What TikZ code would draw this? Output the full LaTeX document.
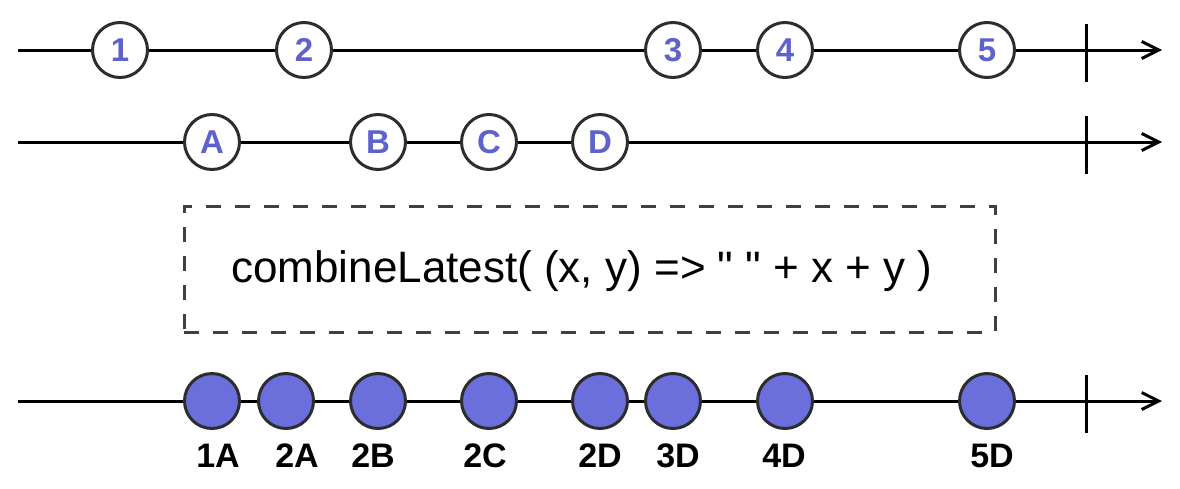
\documentclass[tikz,border=0pt]{standalone}
\usepackage{fontspec}
\setmainfont{Liberation Sans}[Ligatures=TeXOff]
\usetikzlibrary{arrows.meta}
\definecolor{evfill}{RGB}{106,111,220}
\definecolor{evtext}{RGB}{94,99,204}
\definecolor{evline}{RGB}{45,45,45}
\definecolor{boxline}{RGB}{64,64,64}
\begin{document}
\begin{tikzpicture}[x=1pt,y=-1pt,
  tl/.style={line width=3pt,black},
  tlarrow/.style={tl,-{Straight Barb[length=17pt,width=17pt]}},
  tickmark/.style={line width=3pt,black},
  evin/.style={circle,draw=evline,line width=3pt,fill=white,minimum size=55pt,inner sep=0pt,text=evtext,font=\fontsize{33}{33}\selectfont\bfseries},
  evout/.style={circle,draw=evline,line width=3pt,fill=evfill,minimum size=55pt,inner sep=0pt},
  lbl/.style={font=\fontsize{34}{34}\selectfont\bfseries,anchor=base,text=black},
  fnbox/.style={draw=boxline,line width=3pt,dash pattern=on 15pt off 14pt,minimum width=811pt,minimum height=126pt,inner sep=0pt},
  fntext/.style={font=\fontsize{44}{44}\selectfont,anchor=base,text=black}]
\useasboundingbox (0,0) rectangle (1180,488);

% ---------- row 1 ----------
\coordinate (s1) at (18,50);
\coordinate (e1) at (1162,50);
\coordinate (k1t) at (1086,24);
\coordinate (k1b) at (1086,82);
\node[evin] (n1) at (120,50) {1};
\node[evin] (n2) at (304,50) {2};
\node[evin] (n3) at (673,50) {3};
\node[evin] (n4) at (785,50) {4};
\node[evin] (n5) at (987,50) {5};
\draw[tlarrow] (s1) -- (n1) -- (n2) -- (n3) -- (n4) -- (n5) -- (e1);
\draw[tickmark] (k1t) -- (k1b);

% ---------- row 2 ----------
\coordinate (s2) at (18,142);
\coordinate (e2) at (1162,142);
\coordinate (k2t) at (1086,116);
\coordinate (k2b) at (1086,174);
\node[evin] (nA) at (212,142) {A};
\node[evin] (nB) at (378,142) {B};
\node[evin] (nC) at (489,142) {C};
\node[evin] (nD) at (600,142) {D};
\draw[tlarrow] (s2) -- (nA) -- (nB) -- (nC) -- (nD) -- (e2);
\draw[tickmark] (k2t) -- (k2b);

% ---------- operator box ----------
\node[fnbox] (box) at (589.5,269) {};
\node[fntext] (fn) at (582,282) {combineLatest( (x, y) => \char"0022{} \char"0022{} + x + y )};

% ---------- row 3 ----------
\coordinate (s3) at (18,401);
\coordinate (e3) at (1162,401);
\coordinate (k3t) at (1086,375);
\coordinate (k3b) at (1086,433);
\node[evout] (r1) at (212,401) {};
\node[evout] (r2) at (286,401) {};
\node[evout] (r3) at (378,401) {};
\node[evout] (r4) at (489,401) {};
\node[evout] (r5) at (600,401) {};
\node[evout] (r6) at (673,401) {};
\node[evout] (r7) at (785,401) {};
\node[evout] (r8) at (987,401) {};
\draw[tlarrow] (s3) -- (r1) -- (r2) -- (r3) -- (r4) -- (r5) -- (r6) -- (r7) -- (r8) -- (e3);
\draw[tickmark] (k3t) -- (k3b);

\node[lbl] (l1) at (218,467) {1A};
\node[lbl] (l2) at (297,467) {2A};
\node[lbl] (l3) at (373,467) {2B};
\node[lbl] (l4) at (485,467) {2C};
\node[lbl] (l5) at (600,467) {2D};
\node[lbl] (l6) at (678,467) {3D};
\node[lbl] (l7) at (784,467) {4D};
\node[lbl] (l8) at (992,467) {5D};
\end{tikzpicture}
\end{document}
